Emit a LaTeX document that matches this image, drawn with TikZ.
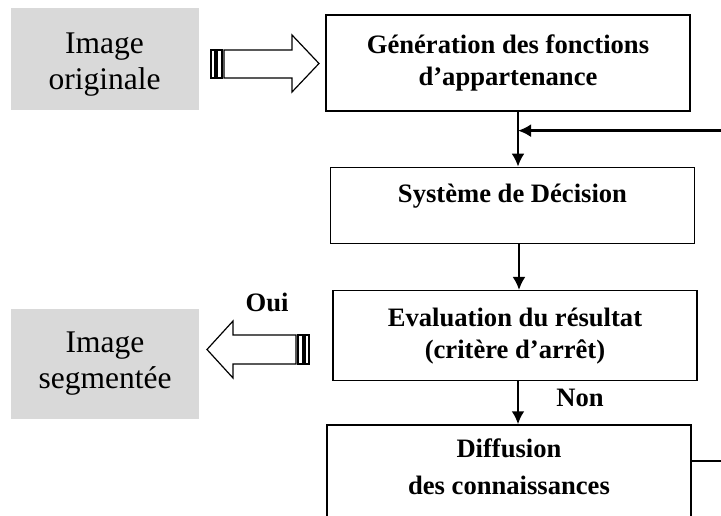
\documentclass[tikz,border=0pt]{standalone}
\usepackage{fontspec}
\setmainfont{Liberation Serif}
\usetikzlibrary{positioning}
\usetikzlibrary{calc}
\usetikzlibrary{arrows.meta}
\tikzset{
bloc/.style={
  rectangle,
  draw=black,
  line width=1.3pt,
  inner sep=0pt,
  minimum width=364pt,
  align=center,
  font=\bfseries\fontsize{26.6}{32}\selectfont
  },
imgbox/.style={
  rectangle,
  fill=gray!30,
  inner sep=0pt,
  minimum width=188pt,
  align=center,
  font=\fontsize{31.5}{36}\selectfont
  },
lbl/.style={
  inner sep=0pt,
  font=\bfseries\fontsize{26.6}{32}\selectfont
  },
lien/.style={
  -{Latex[length=13pt,width=13pt]},
  line width=2.4pt
  },
fleche/.style={
  draw=black,
  fill=white,
  line width=1.2pt,
  line join=miter
  }
}

\begin{document}
\begin{tikzpicture}[x=1pt,y=-1pt]
            \useasboundingbox (0,0) rectangle (721,516);
            \clip (0,0) rectangle (721,516);
            % images
            \node[imgbox,minimum height=102pt] (orig) at (104.5,59) {\mbox{}\\[-5pt]Image\\originale};
            \node[imgbox,minimum height=110pt] (seg) at (105,364) {Image\\segment\'ee};
            % blocs
            \node[bloc,minimum height=96pt] (gen) at (508,63) {G\'en\'eration des fonctions\\d'appartenance};
            \node[bloc,minimum height=76pt,text height=14pt,text depth=20pt] (sys) [below=55pt of gen,xshift=4.5pt] {Syst\`eme de D\'ecision};
            \node[bloc,minimum height=90pt] (eval) [below=46pt of sys,xshift=2.5pt] {Evaluation du r\'esultat\\(crit\`ere d'arr\^et)};
            \node[bloc,minimum height=120pt] (diff) [below=43pt of eval,xshift=-6pt] {Diffusion\\[5pt]des connaissances\\[5pt]~};
            \node[lbl] (oui) at (267,302) {Oui};
            \node[lbl] (non) at (580,398) {Non};
            \coordinate (retour) at ($([xshift=10pt]gen.south)+(0,19)$);
            % liaisons
            \draw[lien] ([xshift=10pt]gen.south) -- ([xshift=10pt]gen.south |- sys.north);
            \draw[lien] ([xshift=6.5pt]sys.south) -- ([xshift=6.5pt]sys.south |- eval.north);
            \draw[lien] ([xshift=3pt]eval.south) -- ([xshift=3pt]eval.south |- diff.north);
            \draw[lien] ($(diff.north east)+(0,37)$) -- ++(40,0) |- (retour);
            % fleches rayees
            \draw[fleche] (224,50) -- (292,50) -- (292,35) -- (319,63.5) -- (292,92) -- (292,78) -- (224,78) -- cycle;
            \draw[fleche] (217,50) rectangle (222,78);
            \draw[fleche] (211,50) rectangle (215,78);
            \draw[fleche] (296,335) -- (233,335) -- (233,321) -- (207,349.5) -- (233,378) -- (233,364) -- (296,364) -- cycle;
            \draw[fleche] (298,335) rectangle (303,364);
            \draw[fleche] (305,335) rectangle (309,364);
        \end{tikzpicture}
\end{document}
